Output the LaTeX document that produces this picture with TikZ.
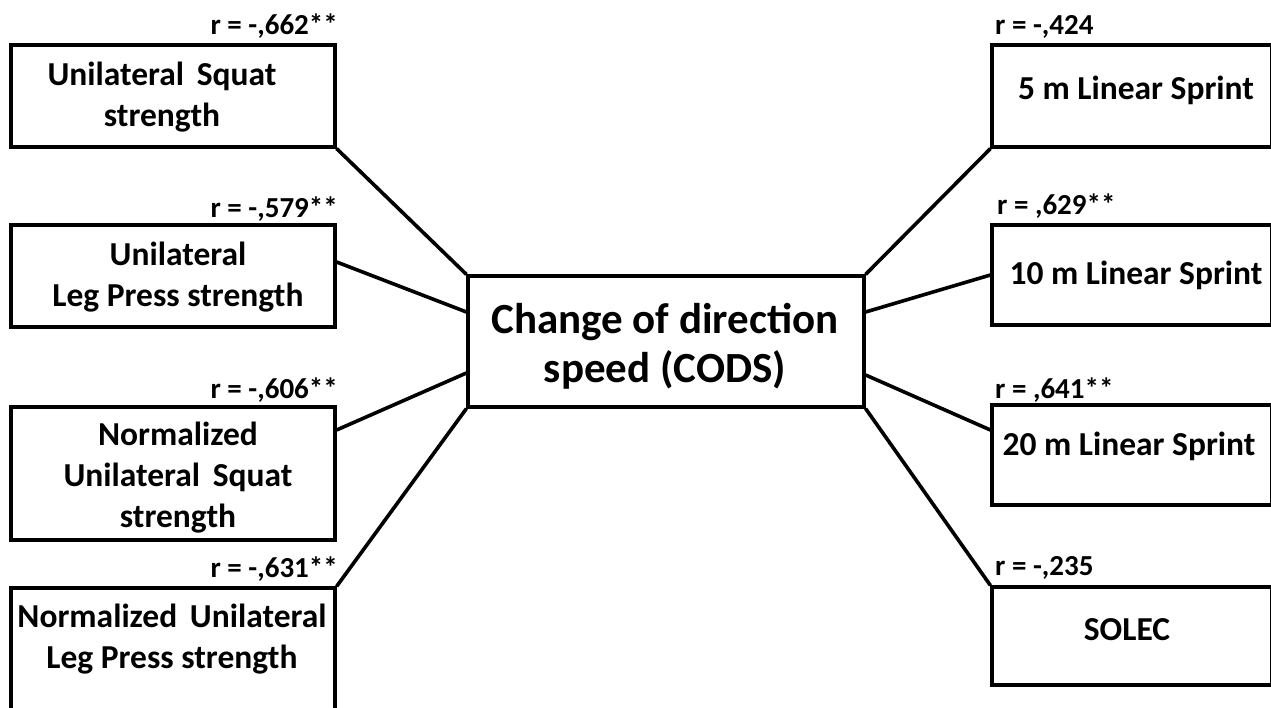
\documentclass[tikz,border=0pt]{standalone}
\usepackage{fontspec}
\setmainfont{Carlito}
\newcommand{\wsp}{\hspace{0.38em}}
\begin{document}
\begin{tikzpicture}[x=1pt,y=-1pt,
  box/.style={draw, line width=3.2pt, rectangle, inner sep=0pt},
  conn/.style={line width=3.6pt},
  txt/.style={font=\bfseries\fontsize{33.5}{41}\selectfont, align=center, inner sep=0pt, anchor=base},
  ctxt/.style={font=\bfseries\fontsize{43}{49}\selectfont, align=center, inner sep=0pt, anchor=base},
  lbl/.style={font=\bfseries\fontsize{29}{32}\selectfont, inner sep=0pt}]
\useasboundingbox (0,0) rectangle (1271,708);
\clip (0,0) rectangle (1271,708);
\fill[white] (0,0) rectangle (1271,708);

% boxes
\node[box, minimum width=324pt, minimum height=102pt] (L1) at (173,96) {};
\node[box, minimum width=324pt, minimum height=102pt] (L2) at (173,276) {};
\node[box, minimum width=324pt, minimum height=133pt] (L3) at (173,473.5) {};
\node[box, minimum width=324pt, minimum height=152pt] (L4) at (173,664) {};
\node[box, minimum width=396pt, minimum height=131pt] (C) at (666,341.5) {};
\node[box, minimum width=280pt, minimum height=102pt] (R1) at (1132,96) {};
\node[box, minimum width=280pt, minimum height=100pt] (R2) at (1132,275) {};
\node[box, minimum width=280pt, minimum height=100pt] (R3) at (1132,455) {};
\node[box, minimum width=280pt, minimum height=98pt] (R4) at (1132,636) {};

% texts (base anchor = baseline of last line)
\node[txt] (tL1) at (162,127) {Unilateral\wsp Squat\\strength};
\node[txt] (tL2) at (178,307) {Unilateral\\Leg Press strength};
\node[txt] (tL3) at (178,527) {Normalized\\Unilateral\wsp Squat\\strength};
\node[txt] (tL4) at (172,668) {Normalized\wsp Unilateral\\Leg Press strength};
\node[ctxt] (tC) at (665,382) {Change of direction\\speed (CODS)};
\node[txt] (tR1) at (1136,100) {5 m Linear Sprint};
\node[txt] (tR2) at (1136,285) {10 m Linear Sprint};
\node[txt] (tR3) at (1129,455) {20 m Linear Sprint};
\node[txt] (tR4) at (1127,640) {SOLEC};

% labels
\node[lbl, anchor=base east] (rL1) at (338,35) {r = -,662**};
\node[lbl, anchor=base east] (rL2) at (338,218) {r = -,579**};
\node[lbl, anchor=base east] (rL3) at (338,398) {r = -,606**};
\node[lbl, anchor=base east] (rL4) at (338,577) {r = -,631**};
\node[lbl, anchor=base west] (rR1) at (995,35) {r = -,424};
\node[lbl, anchor=base west] (rR2) at (997,215) {r = ,629**};
\node[lbl, anchor=base west] (rR3) at (995,398) {r = ,641**};
\node[lbl, anchor=base west] (rR4) at (995,575) {r = -,235};

% connectors
\draw[conn] (L1.south east) -- (C.north west);
\draw[conn] ([yshift=14pt]L2.east) -- ([yshift=29.5pt]C.west);
\draw[conn] ([yshift=43.5pt]L3.east) -- ([yshift=-31.5pt]C.west);
\draw[conn] (L4.north east) -- (C.south west);
\draw[conn] (C.north east) -- (R1.south west);
\draw[conn] ([yshift=29.5pt]C.east) -- (R2.west);
\draw[conn] ([yshift=-33.5pt]C.east) -- ([yshift=25pt]R3.west);
\draw[conn] (C.south east) -- (R4.north west);
\end{tikzpicture}
\end{document}
